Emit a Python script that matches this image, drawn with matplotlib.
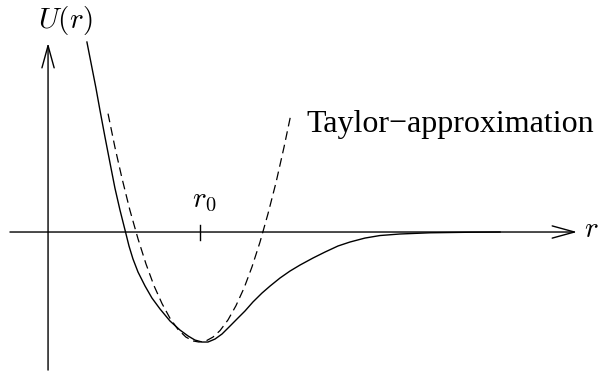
import matplotlib
matplotlib.use("Agg")
import matplotlib.pyplot as plt

plt.rcParams['mathtext.fontset'] = 'cm'

r_pot = [0.261, 0.288, 0.320, 0.346, 0.379, 0.412, 0.444, 0.477, 0.510, 0.536,
         0.562, 0.595, 0.641, 0.686, 0.739, 0.804, 0.869, 0.922, 0.967, 1.013,
         1.052, 1.098, 1.144, 1.196, 1.248, 1.294, 1.346, 1.405, 1.458, 1.523,
         1.588, 1.654, 1.739, 1.817, 1.902, 1.980, 2.078, 2.176, 2.307, 2.503,
         2.765, 2.961]
u_pot = [1.727, 1.536, 1.309, 1.109, 0.864, 0.627, 0.400, 0.200, 0.018, -0.127,
         -0.245, -0.364, -0.491, -0.600, -0.700, -0.809, -0.891, -0.945, -0.982, -1.000,
         -1.000, -0.973, -0.927, -0.855, -0.782, -0.718, -0.636, -0.555, -0.491, -0.418,
         -0.355, -0.300, -0.236, -0.182, -0.127, -0.091, -0.055, -0.032, -0.018, -0.007,
         -0.002, 0.000]

# harmonic (Taylor) approximation around r0
r_taylor = [0.399, 0.444, 0.490, 0.542, 0.595, 0.647, 0.699, 0.752, 0.804,
            0.856, 0.908, 0.954, 0.993, 1.039, 1.085, 1.131, 1.183, 1.235,
            1.288, 1.340, 1.392, 1.444, 1.497, 1.549, 1.595]
u_taylor = [1.076, 0.771, 0.490, 0.198, -0.062, -0.290, -0.487, -0.651, -0.784,
            -0.885, -0.955, -0.990, -1.000, -0.990, -0.955, -0.896, -0.799, -0.670,
            -0.509, -0.316, -0.092, 0.164, 0.451, 0.771, 1.076]

r0 = 1.0

fig = plt.figure(figsize=(5.98, 3.78), dpi=100)
ax = fig.add_axes([0, 0, 1, 1])
ax.set_xlim(-0.307, 3.601)
ax.set_ylim(-1.327, 2.109)
ax.axis('off')

arrow = dict(arrowstyle='->,head_length=0.8,head_width=0.22', lw=1.0,
             color='black', mutation_scale=20, shrinkA=0, shrinkB=0)
# r axis and U axis
ax.annotate('', xy=(3.464, 0), xytext=(-0.242, 0), arrowprops=arrow)
ax.annotate('', xy=(0.007, 1.718), xytext=(0.007, -1.255), arrowprops=arrow)

ax.plot(r_pot, u_pot, color='black', lw=1.0)
ax.plot(r_taylor, u_taylor, color='black', lw=0.9, dashes=(7, 4))

# tick at the minimum
ax.plot([r0, r0], [0.064, -0.073], color='black', lw=1.0)

ax.text(0.118, 1.855, r'$U(r)$', fontsize=21, ha='center', va='baseline')
ax.text(0.948, 0.227, r'$r_0$', fontsize=21, ha='left', va='baseline')
ax.text(3.508, -0.045, r'$r$', fontsize=21, ha='left', va='baseline')
ax.text(1.693, 0.909, 'Taylor\u2212approximation', family='Liberation Serif',
        fontsize=23, ha='left', va='baseline')

fig.savefig('out.png', dpi=100)
